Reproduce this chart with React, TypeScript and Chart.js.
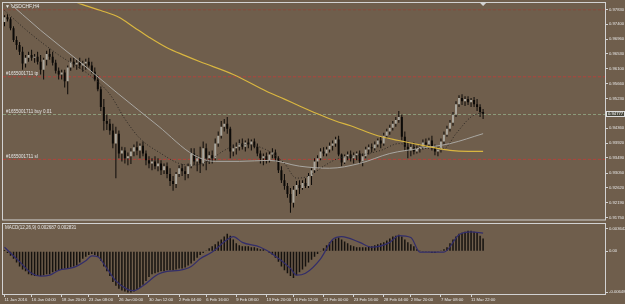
import React, { useEffect, useRef } from 'react';
import { Chart, registerables } from 'chart.js';

Chart.register(...registerables);

// ---------------- data ----------------
const symbolTitle = '▼ USDCHF,H4';

const opens = [
  0.9746, 0.9760, 0.9754, 0.9728, 0.9694, 0.9679, 0.9659, 0.9625, 0.9642, 0.9650,
  0.9642, 0.9645, 0.9630, 0.9607, 0.9636, 0.9653, 0.9645, 0.9627, 0.9604, 0.9593,
  0.9599, 0.9573, 0.9613, 0.9630, 0.9622, 0.9627, 0.9619, 0.9625, 0.9630, 0.9619,
  0.9601, 0.9578, 0.9550, 0.9498, 0.9457, 0.9449, 0.9429, 0.9391, 0.9420, 0.9362,
  0.9371, 0.9348, 0.9354, 0.9368, 0.9380, 0.9371, 0.9385, 0.9362, 0.9342, 0.9333,
  0.9339, 0.9325, 0.9333, 0.9313, 0.9325, 0.9302, 0.9282, 0.9273, 0.9302, 0.9319,
  0.9310, 0.9302, 0.9325, 0.9362, 0.9339, 0.9348, 0.9333, 0.9377, 0.9348, 0.9357,
  0.9348, 0.9391, 0.9414, 0.9440, 0.9449, 0.9434, 0.9368, 0.9377, 0.9382, 0.9391,
  0.9382, 0.9394, 0.9388, 0.9397, 0.9382, 0.9362, 0.9348, 0.9354, 0.9342, 0.9359,
  0.9365, 0.9348, 0.9313, 0.9284, 0.9267, 0.9244, 0.9218, 0.9256, 0.9270, 0.9261,
  0.9276, 0.9267, 0.9296, 0.9313, 0.9339, 0.9348, 0.9368, 0.9362, 0.9374, 0.9385,
  0.9391, 0.9403, 0.9359, 0.9336, 0.9354, 0.9359, 0.9348, 0.9357, 0.9362, 0.9339,
  0.9354, 0.9374, 0.9380, 0.9377, 0.9388, 0.9400, 0.9391, 0.9414, 0.9426, 0.9437,
  0.9449, 0.9460, 0.9469, 0.9411, 0.9382, 0.9371, 0.9382, 0.9368, 0.9377, 0.9382,
  0.9394, 0.9388, 0.9400, 0.9380, 0.9368, 0.9374, 0.9397, 0.9417, 0.9434, 0.9452,
  0.9475, 0.9506, 0.9524, 0.9515, 0.9521, 0.9512, 0.9518, 0.9506, 0.9498, 0.9483,
];
const highs = [
  0.9766, 0.9769, 0.9760, 0.9734, 0.9705, 0.9688, 0.9674, 0.9650, 0.9659, 0.9665,
  0.9653, 0.9659, 0.9650, 0.9642, 0.9662, 0.9668, 0.9659, 0.9636, 0.9613, 0.9607,
  0.9607, 0.9619, 0.9642, 0.9642, 0.9636, 0.9642, 0.9633, 0.9639, 0.9642, 0.9630,
  0.9613, 0.9590, 0.9558, 0.9521, 0.9475, 0.9463, 0.9449, 0.9440, 0.9429, 0.9382,
  0.9380, 0.9365, 0.9377, 0.9388, 0.9397, 0.9391, 0.9397, 0.9371, 0.9354, 0.9348,
  0.9354, 0.9348, 0.9342, 0.9333, 0.9336, 0.9319, 0.9296, 0.9308, 0.9328, 0.9331,
  0.9325, 0.9333, 0.9377, 0.9377, 0.9357, 0.9382, 0.9397, 0.9391, 0.9368, 0.9371,
  0.9406, 0.9426, 0.9457, 0.9463, 0.9469, 0.9440, 0.9388, 0.9394, 0.9403, 0.9406,
  0.9400, 0.9406, 0.9403, 0.9406, 0.9391, 0.9371, 0.9362, 0.9365, 0.9368, 0.9377,
  0.9374, 0.9354, 0.9325, 0.9302, 0.9276, 0.9261, 0.9267, 0.9282, 0.9284, 0.9284,
  0.9290, 0.9305, 0.9319, 0.9348, 0.9357, 0.9377, 0.9380, 0.9382, 0.9394, 0.9400,
  0.9411, 0.9414, 0.9362, 0.9359, 0.9368, 0.9371, 0.9365, 0.9368, 0.9371, 0.9362,
  0.9382, 0.9388, 0.9391, 0.9397, 0.9406, 0.9411, 0.9423, 0.9434, 0.9446, 0.9457,
  0.9469, 0.9486, 0.9475, 0.9426, 0.9397, 0.9391, 0.9394, 0.9385, 0.9388, 0.9403,
  0.9406, 0.9408, 0.9414, 0.9388, 0.9382, 0.9406, 0.9426, 0.9443, 0.9460, 0.9483,
  0.9515, 0.9532, 0.9535, 0.9529, 0.9529, 0.9524, 0.9527, 0.9521, 0.9506, 0.9492,
];
const lows = [
  0.9734, 0.9748, 0.9722, 0.9688, 0.9665, 0.9650, 0.9607, 0.9613, 0.9630, 0.9633,
  0.9627, 0.9622, 0.9593, 0.9578, 0.9619, 0.9636, 0.9619, 0.9596, 0.9578, 0.9578,
  0.9555, 0.9535, 0.9604, 0.9613, 0.9607, 0.9610, 0.9601, 0.9607, 0.9613, 0.9596,
  0.9573, 0.9544, 0.9486, 0.9429, 0.9431, 0.9417, 0.9377, 0.9290, 0.9348, 0.9339,
  0.9333, 0.9328, 0.9331, 0.9354, 0.9357, 0.9348, 0.9354, 0.9328, 0.9319, 0.9313,
  0.9316, 0.9310, 0.9299, 0.9302, 0.9290, 0.9267, 0.9253, 0.9261, 0.9293, 0.9296,
  0.9284, 0.9290, 0.9319, 0.9328, 0.9310, 0.9305, 0.9325, 0.9313, 0.9331, 0.9333,
  0.9342, 0.9382, 0.9406, 0.9426, 0.9420, 0.9348, 0.9354, 0.9359, 0.9371, 0.9374,
  0.9368, 0.9377, 0.9371, 0.9377, 0.9354, 0.9333, 0.9328, 0.9333, 0.9336, 0.9348,
  0.9339, 0.9305, 0.9276, 0.9256, 0.9233, 0.9189, 0.9204, 0.9238, 0.9244, 0.9256,
  0.9261, 0.9261, 0.9270, 0.9305, 0.9319, 0.9342, 0.9354, 0.9354, 0.9365, 0.9371,
  0.9382, 0.9354, 0.9325, 0.9331, 0.9342, 0.9339, 0.9333, 0.9342, 0.9331, 0.9325,
  0.9348, 0.9359, 0.9365, 0.9371, 0.9380, 0.9377, 0.9385, 0.9406, 0.9417, 0.9429,
  0.9440, 0.9452, 0.9400, 0.9371, 0.9348, 0.9354, 0.9359, 0.9362, 0.9365, 0.9374,
  0.9377, 0.9380, 0.9371, 0.9357, 0.9354, 0.9365, 0.9388, 0.9411, 0.9426, 0.9443,
  0.9469, 0.9498, 0.9504, 0.9501, 0.9504, 0.9498, 0.9498, 0.9486, 0.9469, 0.9463,
];
const closes = [
  0.9760, 0.9754, 0.9728, 0.9694, 0.9679, 0.9659, 0.9625, 0.9642, 0.9650, 0.9642,
  0.9645, 0.9630, 0.9607, 0.9636, 0.9653, 0.9645, 0.9627, 0.9604, 0.9593, 0.9599,
  0.9573, 0.9613, 0.9630, 0.9622, 0.9627, 0.9619, 0.9625, 0.9630, 0.9619, 0.9601,
  0.9578, 0.9550, 0.9498, 0.9457, 0.9449, 0.9429, 0.9391, 0.9420, 0.9362, 0.9371,
  0.9348, 0.9354, 0.9368, 0.9380, 0.9371, 0.9385, 0.9362, 0.9342, 0.9333, 0.9339,
  0.9325, 0.9333, 0.9313, 0.9325, 0.9302, 0.9282, 0.9273, 0.9302, 0.9319, 0.9310,
  0.9302, 0.9325, 0.9362, 0.9339, 0.9348, 0.9333, 0.9377, 0.9348, 0.9357, 0.9348,
  0.9391, 0.9414, 0.9440, 0.9449, 0.9434, 0.9368, 0.9377, 0.9382, 0.9391, 0.9382,
  0.9394, 0.9388, 0.9397, 0.9382, 0.9362, 0.9348, 0.9354, 0.9342, 0.9359, 0.9365,
  0.9348, 0.9313, 0.9284, 0.9267, 0.9244, 0.9218, 0.9256, 0.9270, 0.9261, 0.9276,
  0.9267, 0.9296, 0.9313, 0.9339, 0.9348, 0.9368, 0.9362, 0.9374, 0.9385, 0.9391,
  0.9403, 0.9359, 0.9336, 0.9354, 0.9359, 0.9348, 0.9357, 0.9362, 0.9339, 0.9354,
  0.9374, 0.9380, 0.9377, 0.9388, 0.9400, 0.9391, 0.9414, 0.9426, 0.9437, 0.9449,
  0.9460, 0.9469, 0.9411, 0.9382, 0.9371, 0.9382, 0.9368, 0.9377, 0.9382, 0.9394,
  0.9388, 0.9400, 0.9380, 0.9368, 0.9374, 0.9397, 0.9417, 0.9434, 0.9452, 0.9475,
  0.9506, 0.9524, 0.9515, 0.9521, 0.9512, 0.9518, 0.9506, 0.9498, 0.9483, 0.9478,
];

// moving averages, read at bar indices
const yellowMaBars = [22, 25, 32, 38, 43, 48, 54, 60, 65, 76, 87, 93, 98, 104, 110, 115, 124, 131, 141, 148, 154, 159];
const yellowMaValues = [0.9812, 0.9800, 0.9780, 0.9760, 0.9731, 0.9702, 0.9671, 0.9648, 0.9630, 0.9593, 0.9544, 0.9521, 0.9501, 0.9478, 0.9457, 0.9443, 0.9414, 0.9400, 0.9382, 0.9371, 0.9368, 0.9368];

const grayMaBars = [0, 12, 25, 38, 51, 63, 70, 78, 88, 98, 108, 118, 128, 138, 148, 159];
const grayMaValues = [0.9815, 0.9722, 0.9630, 0.9535, 0.9443, 0.9357, 0.9339, 0.9339, 0.9342, 0.9325, 0.9319, 0.9333, 0.9362, 0.9377, 0.9391, 0.9420];

const dottedMaBars = [0, 8, 18, 28, 35, 40, 45, 52, 58, 63, 68, 73, 78, 83, 88, 93, 97, 101, 106, 111, 118, 125, 131, 138, 146, 150, 155, 159];
const dottedMaValues = [0.9780, 0.9717, 0.9650, 0.9593, 0.9535, 0.9463, 0.9406, 0.9362, 0.9333, 0.9328, 0.9342, 0.9371, 0.9388, 0.9385, 0.9368, 0.9333, 0.9290, 0.9296, 0.9325, 0.9348, 0.9357, 0.9371, 0.9391, 0.9377, 0.9377, 0.9420, 0.9469, 0.9483];

// MACD(12,26,9): main as histogram, signal as line
const macdMain = [
  0.00020, -0.00026, -0.00072, -0.00118, -0.00179, -0.00241, -0.00287, -0.00318, -0.00364, -0.00379,
  -0.00394, -0.00394, -0.00394, -0.00379, -0.00364, -0.00364, -0.00333, -0.00318, -0.00302, -0.00287,
  -0.00272, -0.00272, -0.00256, -0.00241, -0.00225, -0.00179, -0.00118, -0.00087, -0.00057, -0.00041,
  -0.00057, -0.00087, -0.00149, -0.00241, -0.00318, -0.00394, -0.00486, -0.00548, -0.00594, -0.00624,
  -0.00640, -0.00655, -0.00655, -0.00640, -0.00609, -0.00578, -0.00532, -0.00471, -0.00410, -0.00364,
  -0.00348, -0.00333, -0.00318, -0.00318, -0.00302, -0.00302, -0.00302, -0.00287, -0.00272, -0.00272,
  -0.00256, -0.00225, -0.00195, -0.00149, -0.00103, -0.00057, -0.00026, 0.00005, 0.00051, 0.00081,
  0.00112, 0.00158, 0.00189, 0.00235, 0.00281, 0.00250, 0.00189, 0.00127, 0.00097, 0.00081,
  0.00081, 0.00081, 0.00066, 0.00066, 0.00051, 0.00035, 0.00035, 0.00005, -0.00026, -0.00057,
  -0.00103, -0.00164, -0.00241, -0.00302, -0.00348, -0.00394, -0.00425, -0.00379, -0.00333, -0.00287,
  -0.00241, -0.00179, -0.00133, -0.00087, -0.00041, -0.00011, 0.00051, 0.00097, 0.00143, 0.00173,
  0.00204, 0.00219, 0.00189, 0.00158, 0.00127, 0.00097, 0.00081, 0.00066, 0.00066, 0.00066,
  0.00066, 0.00081, 0.00081, 0.00097, 0.00112, 0.00127, 0.00143, 0.00173, 0.00204, 0.00235,
  0.00250, 0.00265, 0.00235, 0.00189, 0.00143, 0.00112, 0.00081, 0.00035, 0.00005, -0.00011,
  -0.00011, -0.00011, -0.00026, -0.00026, -0.00011, 0.00005, 0.00035, 0.00066, 0.00127, 0.00189,
  0.00235, 0.00281, 0.00296, 0.00311, 0.00327, 0.00327, 0.00311, 0.00296, 0.00250, 0.00204,
];
const signalBars = [0, 5, 9, 12, 15, 18, 23, 27, 29, 31, 34, 37, 41, 43, 46, 51, 54, 58, 62, 65, 69, 74, 76, 79, 85, 89, 95, 97, 100, 105, 109, 112, 118, 122, 128, 131, 135, 138, 146, 151, 155, 159];
const signalValues = [0.00066, -0.00164, -0.00348, -0.00394, -0.00379, -0.00302, -0.00256, -0.00149, -0.00072, -0.00087, -0.00272, -0.00471, -0.00609, -0.00624, -0.00548, -0.00364, -0.00318, -0.00302, -0.00241, -0.00118, -0.00011, 0.00189, 0.00235, 0.00143, 0.00066, -0.00041, -0.00272, -0.00379, -0.00348, -0.00118, 0.00189, 0.00235, 0.00143, 0.00066, 0.00143, 0.00250, 0.00219, -0.00011, -0.00011, 0.00265, 0.00311, 0.00290];

// axes
const priceTicks = [0.9783, 0.9740, 0.9696, 0.9653, 0.9610, 0.9566, 0.9523, 0.9479, 0.9436, 0.9392, 0.9349, 0.9305, 0.9262, 0.9219, 0.9175];
const macdTicks = [0.003642, 0, -0.00648];
const macdTickLabels = ['0.003642', '0.00', '-0.006480'];
const xLabelBars = [0, 9, 19, 28, 38, 48, 58, 67, 77, 87, 96, 106, 116, 126, 135, 145, 155];
const xLabels = ['11 Jan 2016', '16 Jan 04:00', '18 Jan 20:00', '23 Jan 08:00', '26 Jan 00:00', '30 Jan 12:00', '2 Feb 04:00', '6 Feb 16:00', '9 Feb 08:00', '13 Feb 20:00', '16 Feb 12:00', '21 Feb 00:00', '23 Feb 16:00', '28 Feb 04:00', '2 Mar 20:00', '7 Mar 08:00', '11 Mar 22:00'];

// order levels
const tpLevel = 0.95862;
const buyLevel = 0.9476;
const slLevel = 0.93449;
const topLevel = 0.9782;
const currentPrice = 0.94777;
const orderLabels = ['#1655001711 tp', '#1655001711 buy 0.01', '#1655001711 sl'];
const macdTitle = 'MACD(12,26,9) 0.002687 0.002831';

// ---------------- layout / style ----------------
const TOTAL_SLOTS = 200;
const PRICE_MIN = 0.91692;
const PRICE_MAX = 0.98003;
const MACD_MIN = -0.006787;
const MACD_MAX = 0.003949;
const BG = '#6f5e4c';
const FG = '#e6e6e6';
const AXIS = '#d2d2d2';
const FONT = '"Liberation Sans", Arial, sans-serif';
const AXIS_FONT = 4.2;
const BULL = '#aba79d';
const BEAR = '#0c0a08';

const idx = opens.map((_, i) => i);
const levelLine = (v: number) => [{ x: -0.5, y: v }, { x: TOTAL_SLOTS - 0.5, y: v }];
const pts = (bars: number[], vals: number[]) => bars.map((b, k) => ({ x: b, y: vals[k] }));

const mainOverlay = {
  id: 'mainOverlay',
  afterDraw(chart: any) {
    const { ctx, chartArea: a, scales } = chart;
    const y = scales.y;
    ctx.save();
    ctx.strokeStyle = AXIS;
    ctx.lineWidth = 1;
    ctx.strokeRect(2.5, 2.5, a.right - 2, a.bottom - 2);
    // chart shift marker
    const sx = scales.x.getPixelForValue(opens.length - 1);
    ctx.fillStyle = AXIS;
    ctx.beginPath();
    ctx.moveTo(sx - 3, 3);
    ctx.lineTo(sx + 3, 3);
    ctx.lineTo(sx, 6);
    ctx.closePath();
    ctx.fill();
    // title
    ctx.fillStyle = FG;
    ctx.font = `5px ${FONT}`;
    ctx.textBaseline = 'middle';
    ctx.textAlign = 'left';
    ctx.fillText(symbolTitle, 5, 6.5);
    // order labels
    ctx.font = `4.5px ${FONT}`;
    ctx.textBaseline = 'bottom';
    [tpLevel, buyLevel, slLevel].forEach((lv, k) => {
      ctx.fillText(orderLabels[k], a.left + 3, y.getPixelForValue(lv) - 0.5);
    });
    // current price box
    const py = Math.round(y.getPixelForValue(currentPrice));
    ctx.fillStyle = '#4b4a3e';
    ctx.fillRect(a.right + 1, py - 3, 19, 6);
    ctx.strokeStyle = '#dedede';
    ctx.strokeRect(a.right + 1.5, py - 2.5, 18, 5);
    ctx.fillStyle = '#ffffff';
    ctx.font = `${AXIS_FONT}px ${FONT}`;
    ctx.textBaseline = 'middle';
    ctx.fillText(currentPrice.toFixed(5), a.right + 3, py + 0.3);
    ctx.restore();
  },
};

const macdOverlay = {
  id: 'macdOverlay',
  afterDraw(chart: any) {
    const { ctx, chartArea: a } = chart;
    ctx.save();
    ctx.strokeStyle = AXIS;
    ctx.lineWidth = 1;
    ctx.strokeRect(2.5, 0.5, a.right - 2, a.bottom);
    ctx.fillStyle = FG;
    ctx.font = `4.5px ${FONT}`;
    ctx.textBaseline = 'middle';
    ctx.textAlign = 'left';
    ctx.fillText(macdTitle, 5, 5);
    ctx.restore();
  },
};

export default function App() {
  const mainRef = useRef<HTMLCanvasElement>(null);
  const macdRef = useRef<HTMLCanvasElement>(null);

  useEffect(() => {
    Chart.defaults.font.family = FONT;
    const levelDs = (v: number, color: string) => ({
      type: 'line' as const,
      data: levelLine(v),
      borderColor: color,
      borderWidth: 1,
      borderDash: [3, 2],
      pointRadius: 0,
      order: 10,
    });
    const maDs = (data: any[], color: string, width: number, dash: number[], order: number) => ({
      type: 'line' as const,
      data,
      borderColor: color,
      borderWidth: width,
      borderDash: dash,
      pointRadius: 0,
      cubicInterpolationMode: 'monotone' as const,
      order,
    });

    const main = new Chart(mainRef.current!, {
      type: 'bar',
      data: {
        datasets: [
          levelDs(topLevel, 'rgba(150,62,52,0.7)'),
          levelDs(tpLevel, '#b2443c'),
          levelDs(buyLevel, '#8d9c7c'),
          levelDs(slLevel, '#b2443c'),
          {
            type: 'bar',
            data: idx.map((i) => ({ x: i, y: [lows[i], highs[i]] })),
            backgroundColor: BEAR,
            barThickness: 1,
            grouped: false,
            inflateAmount: 0,
            order: 6,
          } as any,
          {
            type: 'bar',
            data: idx.map((i) => ({ x: i, y: [opens[i], closes[i]] })),
            backgroundColor: idx.map((i) => (closes[i] > opens[i] ? BULL : BEAR)),
            barThickness: 2,
            grouped: false,
            inflateAmount: 0,
            order: 5,
          } as any,
          maDs(pts(grayMaBars, grayMaValues), '#a9a7a2', 1, [], 3),
          maDs(pts(dottedMaBars, dottedMaValues), '#2a2622', 1, [1, 2], 2),
          maDs(pts(yellowMaBars, yellowMaValues), '#d9b640', 1.2, [], 1),
        ],
      },
      options: {
        responsive: false,
        animation: false,
        devicePixelRatio: 1,
        events: [],
        layout: { padding: { left: 3, top: 3, right: 0, bottom: 1 } },
        plugins: { legend: { display: false }, tooltip: { enabled: false } },
        scales: {
          x: { type: 'linear', offset: false, min: -0.5, max: TOTAL_SLOTS - 0.5, display: false, grid: { offset: false } },
          y: {
            type: 'linear',
            position: 'right',
            min: PRICE_MIN,
            max: PRICE_MAX,
            afterFit: (s: any) => { s.width = 20; },
            afterBuildTicks: (s: any) => { s.ticks = priceTicks.map((v) => ({ value: v })); },
            ticks: {
              autoSkip: false,
              padding: 1,
              color: FG,
              font: { size: AXIS_FONT, family: FONT },
              callback: (v: any) => Number(v).toFixed(5),
            },
            grid: { drawOnChartArea: false, drawTicks: true, tickLength: 3, color: AXIS },
            border: { color: AXIS },
          },
        },
      },
      plugins: [mainOverlay],
    } as any);

    const macd = new Chart(macdRef.current!, {
      type: 'bar',
      data: {
        datasets: [
          {
            type: 'line',
            data: pts(signalBars, signalValues),
            borderColor: '#322d6a',
            borderWidth: 1.2,
            pointRadius: 0,
            cubicInterpolationMode: 'monotone',
            order: 0,
          },
          {
            type: 'bar',
            data: idx.map((i) => ({ x: i, y: macdMain[i] })),
            backgroundColor: '#15120f',
            barThickness: 1.5,
            grouped: false,
            inflateAmount: 0,
            order: 1,
          },
        ],
      },
      options: {
        responsive: false,
        animation: false,
        devicePixelRatio: 1,
        events: [],
        layout: { padding: { left: 3, top: 1, right: 0, bottom: 0 } },
        plugins: { legend: { display: false }, tooltip: { enabled: false } },
        scales: {
          x: {
            type: 'linear',
            offset: false,
            min: -0.5,
            max: TOTAL_SLOTS - 0.5,
            afterFit: (s: any) => { s.height = 10; },
            afterBuildTicks: (s: any) => { s.ticks = xLabelBars.map((v) => ({ value: v })); },
            ticks: {
              autoSkip: false,
              maxRotation: 0,
              align: 'start',
              padding: 0,
              color: FG,
              font: { size: AXIS_FONT, family: FONT },
              callback: (v: any) => {
                const k = xLabelBars.indexOf(Number(v));
                return k >= 0 ? xLabels[k] : '';
              },
            },
            grid: { offset: false, drawOnChartArea: false, drawTicks: true, tickLength: 3, color: AXIS },
            border: { display: false },
          },
          y: {
            type: 'linear',
            position: 'right',
            min: MACD_MIN,
            max: MACD_MAX,
            afterFit: (s: any) => { s.width = 20; },
            afterBuildTicks: (s: any) => { s.ticks = macdTicks.map((v) => ({ value: v })); },
            ticks: {
              autoSkip: false,
              padding: 1,
              color: FG,
              font: { size: AXIS_FONT, family: FONT },
              callback: (v: any) => {
                const k = macdTicks.indexOf(Number(v));
                return k >= 0 ? macdTickLabels[k] : '';
              },
            },
            grid: { drawOnChartArea: false, drawTicks: true, tickLength: 3, color: AXIS },
            border: { color: AXIS },
          },
        },
      },
      plugins: [macdOverlay],
    } as any);

    return () => {
      main.destroy();
      macd.destroy();
    };
  }, []);

  return (
    <div style={{ position: 'absolute', left: 0, top: 0, width: 625, height: 304, background: BG, overflow: 'hidden' }}>
      <canvas ref={mainRef} width={625} height={223} style={{ position: 'absolute', left: 0, top: 0, width: 625, height: 223 }} />
      <canvas ref={macdRef} width={625} height={81} style={{ position: 'absolute', left: 0, top: 223, width: 625, height: 81 }} />
    </div>
  );
}
